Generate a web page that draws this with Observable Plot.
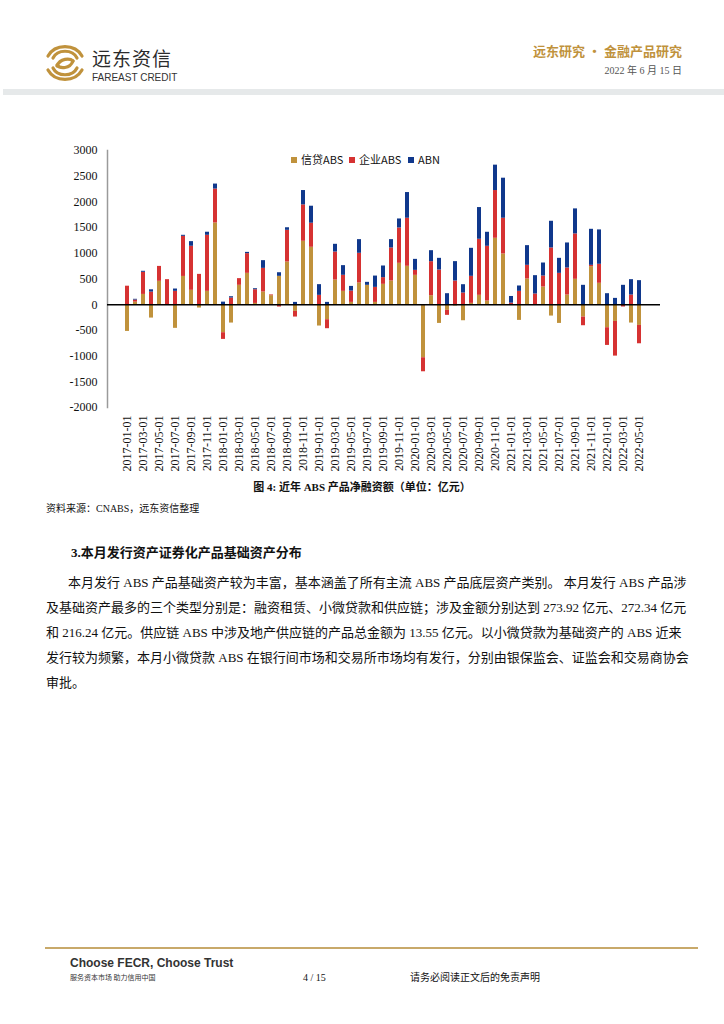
<!DOCTYPE html>
<html>
<head>
<meta charset="utf-8">
<script src="https://cdn.jsdelivr.net/npm/d3@7"></script>
<script src="https://cdn.jsdelivr.net/npm/@observablehq/plot@0.6"></script>
<style>
  html, body { margin: 0; padding: 0; background: #fff; }
  body { width: 724px; height: 1024px; position: relative; overflow: hidden;
         font-family: "Liberation Serif", "Noto Sans CJK SC", serif; color: #111; }
  .abs { position: absolute; white-space: nowrap; line-height: 1.2; }
  .para { position: absolute; left: 46px; width: 630px; font-size: 13px; line-height: 16px;
          text-align: justify; text-align-last: justify; white-space: nowrap; }
  #chart { position: absolute; left: 40px; top: 140px; }
  #chart svg text { font-family: "Liberation Serif", "Times New Roman", serif; fill: #111; }
  .leg { position: absolute; top: 153px; font-family: "Noto Sans CJK SC", sans-serif; font-size: 11px; color: #111; line-height: 1.2; }
  .leg span.sw { display: inline-block; width: 6px; height: 6px; margin-right: 4px; vertical-align: 1px; }
</style>
</head>
<body>
<!-- header -->
<svg class="abs" style="left:42px;top:42px" width="46" height="42" viewBox="0 0 46 42">
  <g fill="none" stroke="#C0923C" stroke-width="3.2" stroke-linecap="round">
    <path d="M6 14 A19 17 0 0 1 40 14"/>
    <path d="M6 28 A19 17 0 0 0 40 28"/>
    <path d="M11 16 A13 11 0 0 1 35 16"/>
    <path d="M11 26 A13 11 0 0 0 35 26"/>
    <path d="M15 24 C 18 16, 28 16, 31 19"/>
    <path d="M15 23 C 18 27, 28 27, 31 19"/>
  </g>
</svg>
<div class="abs" style="left:92px;top:48px;font-family:'Noto Sans CJK SC',sans-serif;font-size:19px;line-height:19px;color:#2b2b2b;letter-spacing:1px;">远东资信</div>
<div class="abs" style="left:92px;top:73px;font-family:'Liberation Sans',sans-serif;font-size:10px;line-height:10px;color:#333;">FAREAST CREDIT</div>
<div class="abs" style="right:42px;top:43px;font-family:'Noto Sans CJK SC',serif;font-size:13px;font-weight:bold;color:#C0923C;">远东研究 • 金融产品研究</div>
<div class="abs" style="right:42px;top:65px;font-size:10px;color:#555;">2022 年 6 月 15 日</div>
<div class="abs" style="left:3px;top:89px;width:721px;height:6px;background:#E6E9EA;"></div>

<div id="chart"></div>
<div class="leg" style="left:291px;"><span class="sw" style="background:#C0923C"></span>信贷ABS</div>
<div class="leg" style="left:349px;"><span class="sw" style="background:#D63232"></span>企业ABS</div>
<div class="leg" style="left:408px;"><span class="sw" style="background:#10388C"></span>ABN</div>

<div class="abs" style="left:0;width:724px;top:481px;text-align:center;font-size:11px;font-weight:bold;">图 4:  近年 ABS 产品净融资额（单位：亿元）</div>
<div class="abs" style="left:46px;top:503px;font-size:10px;">资料来源：CNABS，远东资信整理</div>

<div class="abs" style="left:71px;top:545px;font-size:13px;font-weight:bold;">3.本月发行资产证券化产品基础资产分布</div>
<div class="para" style="top:575px;left:68px;width:605px;">本月发行 ABS 产品基础资产较为丰富，基本涵盖了所有主流 ABS 产品底层资产类别。 本月发行 ABS 产品涉</div>
<div class="para" style="top:600px;width:627px;">及基础资产最多的三个类型分别是：融资租赁、小微贷款和供应链；涉及金额分别达到 273.92 亿元、272.34 亿元</div>
<div class="para" style="top:625px;width:627px;">和 216.24 亿元。供应链 ABS 中涉及地产供应链的产品总金额为 13.55 亿元。以小微贷款为基础资产的 ABS 近来</div>
<div class="para" style="top:650px;width:627px;">发行较为频繁，本月小微贷款 ABS 在银行间市场和交易所市场均有发行，分别由银保监会、证监会和交易商协会</div>
<div class="abs" style="top:675px;left:46px;font-size:13px;">审批。</div>

<!-- footer -->
<div class="abs" style="left:45px;top:947px;width:653px;height:2px;background:#C8A96A;"></div>
<div class="abs" style="left:70px;top:956px;font-family:'Liberation Sans',sans-serif;font-weight:bold;font-size:12px;color:#333;">Choose FECR, Choose Trust</div>
<div class="abs" style="left:70px;top:973px;font-family:'Noto Sans CJK SC',sans-serif;font-size:7px;color:#333;">服务资本市场  助力信用中国</div>
<div class="abs" style="left:303px;top:972px;font-size:10px;">4 / 15</div>
<div class="abs" style="left:410px;top:972px;font-size:10px;">请务必阅读正文后的免责声明</div>

<script>
const months = [];
for (let y = 2017; y <= 2022; y++) {
  for (let m = 1; m <= 12; m++) {
    if (y === 2022 && m > 5) break;
    months.push(`${y}-${String(m).padStart(2, "0")}-01`);
  }
}
const tickLabels = months.filter((d, i) => i % 2 === 0);
const seriesNames = ["信贷ABS", "企业ABS", "ABN"];
const seriesColors = ["#C0923C", "#D63232", "#10388C"];

const credit = [
  -520, 50, 200, -260, 455, 0, -460, 550, 280, -65, 260, 1590,
  -545, -357, 377, 610, 25, 247, 175, 552, 830, -130, 1234, 1117,
  -415, -292, 480, 260, 45, 422, 377, 45, 396, 461, 805, 747,
  571, -1032, 175, -364, -110, -26, -312, 26, 182, 71, 1292, 987,
  -5, -305, 500, 0, 344, -221, -364, 188, 494, -240, 740, 416,
  -448, -325, 0, -357, -403
];
const corporate = [
  360, 40, 430, 245, 290, 487, 260, 780, 857, 590, 1090, 660,
  -130, 130, 130, 383, 266, 460, 15, -45, 617, -110, 708, 468,
  182, -175, 545, 312, 220, 578, 0, 292, 130, 643, 688, 935,
  97, -273, 662, 675, -97, 461, 227, 526, 1091, 1065, 929, 695,
  30, 260, 266, 208, 214, 1104, 610, 526, 883, -169, 26, 370,
  -344, -675, -45, 188, -357
];
const abn = [
  0, 15, 20, 45, 0, 0, 45, 20, 90, 0, 60, 97,
  50, 25, 0, 25, 20, 150, 0, 70, 50, 45, 279, 331,
  208, 45, 150, 188, 91, 266, 58, 220, 227, 162, 175, 500,
  214, 0, 214, 227, 214, 377, 162, 545, 617, 273, 494, 779,
  130, 104, 383, 357, 253, 519, 292, 487, 487, 377, 701, 669,
  214, 123, 377, 299, 468
];
const yTicks = [-2000, -1500, -1000, -500, 0, 500, 1000, 1500, 2000, 2500, 3000];

const seriesValues = [credit, corporate, abn];
const data = [];
months.forEach((m, i) => {
  seriesNames.forEach((s, k) => data.push({month: m, series: s, value: seriesValues[k][i]}));
});

const chart = Plot.plot({
  width: 640,
  height: 340,
  marginLeft: 67,
  marginRight: 20,
  marginTop: 10,
  marginBottom: 73,
  style: {fontFamily: "'Liberation Serif', 'Times New Roman', serif", background: "transparent", color: "#111"},
  x: {type: "band", domain: months, padding: 0.45, label: null},
  y: {domain: [-2000, 3000], label: null},
  color: {domain: seriesNames, range: seriesColors},
  marks: [
    Plot.frame({anchor: "left", stroke: "#9a9a9a", strokeWidth: 1.5}),
    Plot.barY(data, Plot.stackY({x: "month", y: "value", fill: "series", order: seriesNames})),
    Plot.ruleY([0], {stroke: "#000", strokeWidth: 1.5}),
    Plot.axisY({ticks: yTicks, tickSize: 0, tickPadding: 10, fontSize: 12, label: null, tickFormat: d => String(d)}),
    Plot.axisX({ticks: tickLabels, tickRotate: -90, tickSize: 0, tickPadding: 8, fontSize: 12, label: null})
  ]
});
document.getElementById("chart").appendChild(chart);
</script>
</body>
</html>
